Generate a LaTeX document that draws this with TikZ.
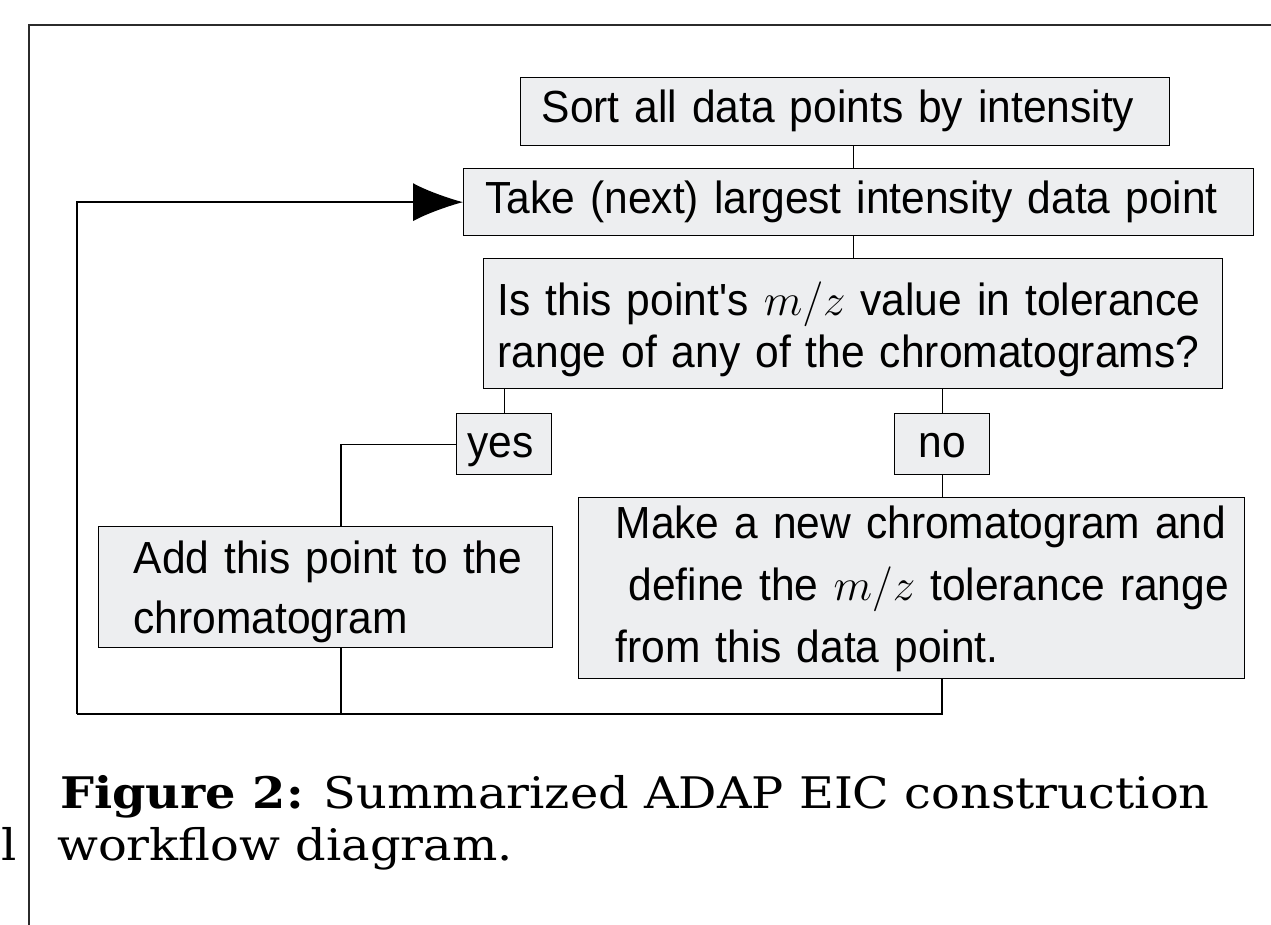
\documentclass[tikz,border=0pt]{standalone}
\usepackage{fix-cm}
\usepackage{fontspec}
\setmainfont[FakeStretch=0.945]{Liberation Sans}
\newfontfamily\capfont[FakeStretch=1.1]{DejaVu Serif}
\usetikzlibrary{arrows.meta}
\definecolor{boxfill}{HTML}{EDEEF0}
\definecolor{rulegray}{HTML}{2B2B2B}

\begin{document}
\begin{tikzpicture}
		[x=1pt,y=-1pt,
		box/.style={draw,fill=boxfill,line width=1.3pt,anchor=north west,inner ysep=0pt,align=left,font=\fontsize{45}{52}\selectfont},
		edge/.style={line width=1.3pt},
		loop/.style={line width=1.3pt,-{Latex[length=50pt,width=38pt]}},
		caption/.style={inner sep=0pt,anchor=base west,font=\capfont\fontsize{43.5}{52}\selectfont}]
		\useasboundingbox (0,0) rectangle (1271,925);
		\draw[rulegray,line width=2.3pt] (29,925) -- (29,25) -- (1271,25);
		
		\node[box,text width=607pt,inner xsep=21pt,text height=45pt,text depth=23pt] (sort) at (520,77) {Sort all data points by intensity};
		\node[box,text width=746pt,inner xsep=22pt,text height=45pt,text depth=22pt] (take) at (463,168) {Take (next) largest intensity data point};
		\node[box,text width=711pt,inner xsep=14pt,text height=57pt,text depth=73pt] (query) at (483,258)
		{\mbox{Is this point\textquotesingle s $m/z$ value in tolerance}\\\mbox{range of any of the chromatograms?}};
		\node[box,text width=73pt,inner xsep=11pt,text height=44pt,text depth=17pt] (yes) at (456,413) {yes};
		\node[box,align=center,text width=75pt,inner xsep=10pt,text height=44pt,text depth=17pt] (no) at (894,413) {no};
		\node[box,text width=384pt,inner xsep=35pt,text height=47pt,text depth=74pt,font=\fontsize{45}{60}\selectfont] (add) at (98,526)
		{\mbox{Add this point to the}\\\mbox{chromatogram}};
		\node[box,text width=592pt,inner xsep=37pt,text height=41pt,text depth=140pt,font=\fontsize{45}{62}\selectfont] (make) at (578,497)
		{\mbox{Make a new chromatogram and}\\\mbox{\hspace{13pt}define the $m/z$ tolerance range}\\\mbox{from this data point.}};
		
		\coordinate (split) at (341,714);
		\coordinate (merge) at (942,714);
		\coordinate (back) at (77,714);
		
		\draw[edge] (sort.south -| query) -- (take.north -| query);
		\draw[edge] (take.south -| query) -- (query.north);
		\draw[edge] (query.south -| yes) -- (yes.north);
		\draw[edge] (query.south -| no) -- (no.north);
		\draw[edge] (no.south) -- (no.south |- make.north);
		\draw[edge] (yes.west) -| (split |- add.north);
		\draw[edge] (split |- add.south) -- (split);
		\draw[edge] (make.south -| merge) -- (merge) -- (back);
		\draw[loop] (back) |- (take.west);
		
		\node[caption] (fig) at (60,808) {\textbf{Figure 2:}\hspace{20pt}Summarized ADAP EIC construction};
		\node[caption] (fig2) at (57,860) {workflow diagram.};
		\node[caption] (cut) at (1,860) {l};
\end{tikzpicture}
\end{document}
